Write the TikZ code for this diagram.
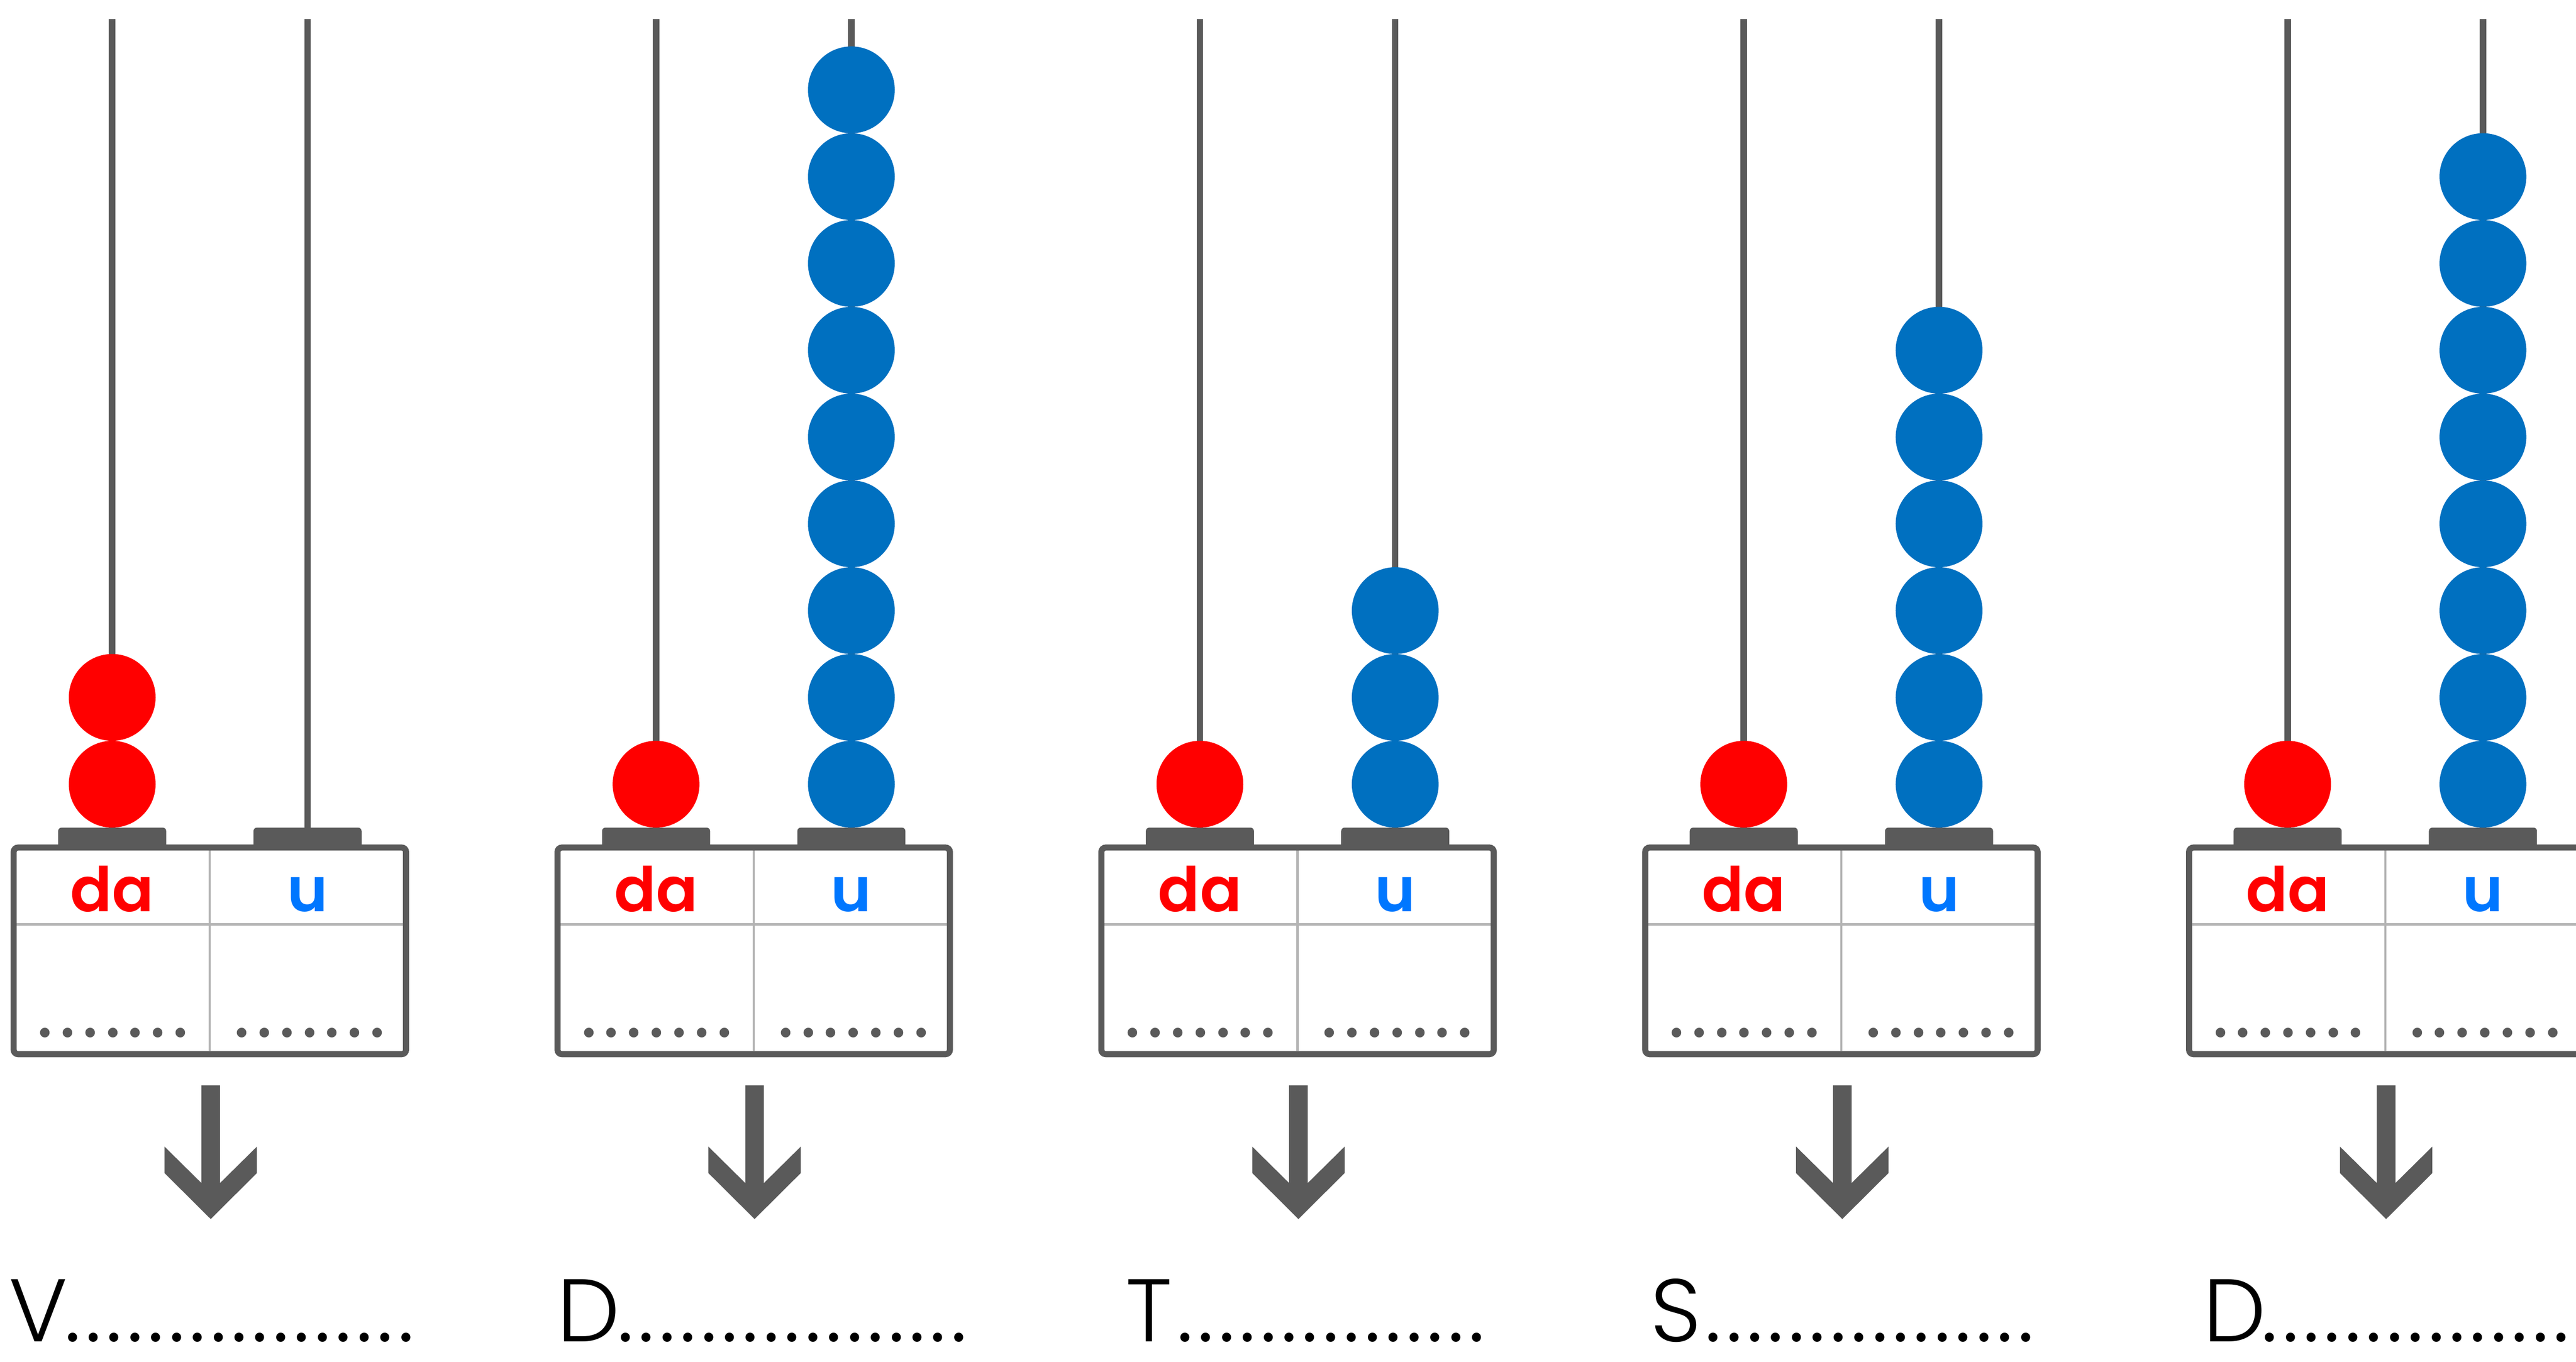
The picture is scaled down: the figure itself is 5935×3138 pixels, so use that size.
\documentclass[tikz,border=0pt]{standalone}
\usepackage{fontspec}
\setmainfont{Poppins}
\newfontfamily\lightfont{Poppins Light}
\newfontfamily\semifont{Poppins SemiBold}
\definecolor{frame}{HTML}{5A5A5A}
\definecolor{divline}{HTML}{B4B4B4}
\definecolor{beadred}{HTML}{FF0000}
\definecolor{beadblue}{HTML}{0070C0}
\definecolor{ublue}{HTML}{0077FF}
\newcount\pcnt
\newcommand\perrow[2]{\pcnt=0 \loop\ifnum\pcnt<#1 \hbox to #2{\hss.\hss}\advance\pcnt by 1 \repeat}
\tikzset{
  rodline/.style={frame, line width=15pt},
  boxborder/.style={frame, line width=14pt, rounded corners=10pt},
  cellline/.style={divline, line width=5pt},
  headtext/.style={inner sep=0pt, anchor=base, font=\fontsize{142}{150}\semifont},
  celldots/.style={inner sep=0pt, anchor=base, text=frame, font=\fontsize{180}{190}\selectfont},
  labeltext/.style={inner sep=0pt, anchor=base west, text=black, font=\fontsize{205}{210}\lightfont},
}
\begin{document}
\begin{tikzpicture}[x=1pt,y=-1pt]
\fill[white] (0,0) rectangle (5935,3138);
\useasboundingbox (0,0) rectangle (5935,3138);
\foreach \i/\da/\u/\L/\n/\lx/\dx in {0/2/0/V/17/21/167, 1/1/9/D/17/1283/1441, 2/1/3/T/15/2594/2730, 3/1/6/S/16/3802/3947, 4/1/8/D/15/5076/5229}{
  \pgfmathsetmacro\c{483.5+1253*\i}
  \pgfmathsetmacro\ra{\c-225}
  \pgfmathsetmacro\rb{\c+225}
  % rods
  \draw[rodline] (\ra,44) -- (\ra,1907);
  \draw[rodline] (\rb,44) -- (\rb,1907);
  % pedestals
  \fill[frame] (\ra-124.5,1953) [rounded corners=8pt] -- (\ra-124.5,1907) -- (\ra+124.5,1907) [sharp corners] -- (\ra+124.5,1953) -- cycle;
  \fill[frame] (\rb-124.5,1953) [rounded corners=8pt] -- (\rb-124.5,1907) -- (\rb+124.5,1907) [sharp corners] -- (\rb+124.5,1953) -- cycle;
  % beads
  \ifnum\da>0
    \foreach \k in {1,...,\da} \fill[beadred] (\ra,{1807-200*(\k-1)}) circle[radius=100];
  \fi
  \ifnum\u>0
    \foreach \k in {1,...,\u} \fill[beadblue] (\rb,{1807-200*(\k-1)}) circle[radius=100];
  \fi
  % box
  \fill[white] (\c-452,1953) rectangle (\c+452,2429);
  \draw[cellline] (\c-446,2130) -- (\c+446,2130);
  \draw[cellline] (\c,1960) -- (\c,2422);
  \draw[boxborder] (\c-452,1953) rectangle (\c+452,2429);
  % headings
  \node[headtext, text=beadred] (da\i) at (\ra,2100) {da};
  \node[headtext, text=ublue] (u\i) at (\rb,2100) {u};
  % dotted answer spaces
  \node[celldots] (dl\i) at (\ra+1.5,2390) {\perrow{7}{52pt}};
  \node[celldots] (dr\i) at (\rb+5,2390) {\perrow{7}{52pt}};
  % arrow
  \fill[frame] (\c+2-21.5,2501) -- (\c+2-21.5,2726) -- (\c+2-106.5,2642) -- (\c+2-106.5,2703) -- (\c+2,2809) -- (\c+2+106.5,2703) -- (\c+2+106.5,2642) -- (\c+2+21.5,2726) -- (\c+2+21.5,2501) -- cycle;
  % label
  \pgfmathsetmacro\w{\dx-\lx-24}
  \node[labeltext] (lab\i) at (\lx,3092) {\makebox[\w pt][l]{\L}\perrow{\n}{48pt}};
}
\end{tikzpicture}
\end{document}
